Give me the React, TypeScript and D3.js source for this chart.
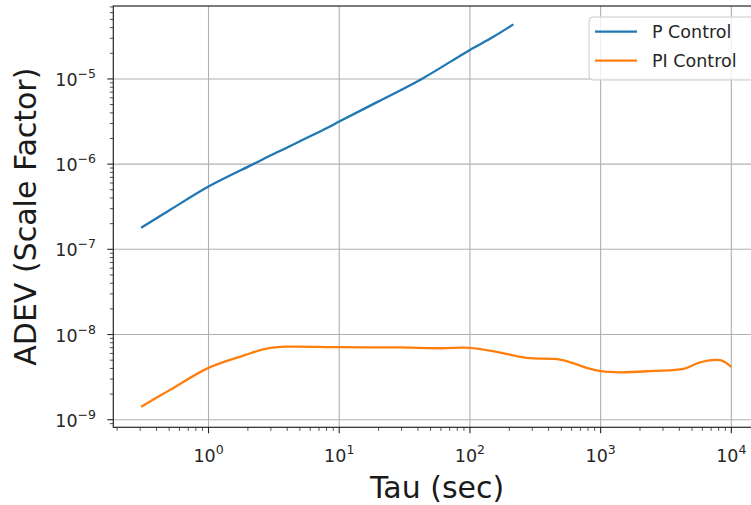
import React from "react";
import * as d3 from "d3";

const pTau = [0.305, 0.5, 1, 2.2, 3, 8.5, 10, 20, 42.8, 100, 150, 215];
const pAdev = [1.79e-7, 2.86e-7, 5.46e-7, 1.0e-6, 1.27e-6, 2.76e-6, 3.16e-6, 5.45e-6, 1.0e-5, 2.19e-5, 3.1e-5, 4.37e-5];

const piTau = [0.305, 0.5, 1, 1.85, 2.79, 3.97, 10, 29, 60, 100, 160, 272, 489, 617, 783, 1000, 1407, 2530, 4295, 5765, 8200, 10000];
const piAdev = [1.42e-9, 2.21e-9, 4.06e-9, 5.66e-9, 6.84e-9, 7.2e-9, 7.1e-9, 7.05e-9, 6.9e-9, 6.97e-9, 6.25e-9, 5.32e-9, 5.08e-9, 4.61e-9, 4.05e-9, 3.71e-9, 3.6e-9, 3.74e-9, 3.95e-9, 4.72e-9, 4.99e-9, 4.17e-9];

const xTickExps = [0, 1, 2, 3, 4];
const yTickExps = [-9, -8, -7, -6, -5];
const seriesNames = ["P Control", "PI Control"];
const seriesColors = ["#1f77b4", "#ff7f0e"];

const W = 751;
const H = 505;
const L = 113.3, R = 760.8, T = 6, B = 427.3;

export default function App() {
  const x = d3.scaleLog().domain([Math.pow(10, -0.7285), Math.pow(10, 4.2255)]).range([L, R]);
  const y = d3.scaleLog().domain([Math.pow(10, -9.089), Math.pow(10, -4.144)]).range([B, T]);
  const line = d3.line<[number, number]>().x(d => x(d[0])).y(d => y(d[1])).curve(d3.curveCatmullRom.alpha(0.5));
  const pData = pTau.map((t, i) => [t, pAdev[i]] as [number, number]);
  const piData = piTau.map((t, i) => [t, piAdev[i]] as [number, number]);

  const [x0, x1] = x.domain();
  const [y0, y1] = y.domain();
  const xMinor: number[] = [];
  for (let d = -1; d <= 4; d++) for (let k = 2; k <= 9; k++) { const v = k * Math.pow(10, d); if (v > x0 && v < x1) xMinor.push(v); }
  const yMinor: number[] = [];
  for (let d = -10; d <= -4; d++) for (let k = 2; k <= 9; k++) { const v = k * Math.pow(10, d); if (v > y0 && v < y1) yMinor.push(v); }

  const font = "DejaVu Sans, sans-serif";
  const tickFs = 17.5;
  const supFs = 12.5;
  const axisColor = "#262626";
  const gridColor = "#b0b0b0";

  return (
    <svg width={W} height={H} style={{ position: "absolute", left: 0, top: 0, background: "#fff" }} fontFamily={font}>
      {xTickExps.map(e => (
        <line key={"gx" + e} x1={x(Math.pow(10, e))} x2={x(Math.pow(10, e))} y1={T} y2={B} stroke={gridColor} strokeWidth={1.1} />
      ))}
      {yTickExps.map(e => (
        <line key={"gy" + e} x1={L} x2={R} y1={y(Math.pow(10, e))} y2={y(Math.pow(10, e))} stroke={gridColor} strokeWidth={1.1} />
      ))}
      <path d={line(pData) || ""} fill="none" stroke={seriesColors[0]} strokeWidth={2.3} strokeLinejoin="round" />
      <path d={line(piData) || ""} fill="none" stroke={seriesColors[1]} strokeWidth={2.3} strokeLinejoin="round" />
      <rect x={L} y={T} width={R - L} height={B - T} fill="none" stroke={axisColor} strokeWidth={1.2} />
      {xTickExps.map(e => (
        <g key={"xt" + e}>
          <line x1={x(Math.pow(10, e))} x2={x(Math.pow(10, e))} y1={B} y2={B + 6} stroke={axisColor} strokeWidth={1.1} />
          <text x={x(Math.pow(10, e))} y={461.7} textAnchor="middle" fontSize={tickFs} fill="#262626">
            10<tspan dy={-8} fontSize={supFs}>{e}</tspan>
          </text>
        </g>
      ))}
      {xMinor.map((v, i) => (
        <line key={"xm" + i} x1={x(v)} x2={x(v)} y1={B} y2={B + 3.5} stroke={axisColor} strokeWidth={0.8} />
      ))}
      {yTickExps.map(e => (
        <g key={"yt" + e}>
          <line x1={L - 6} x2={L} y1={y(Math.pow(10, e))} y2={y(Math.pow(10, e))} stroke={axisColor} strokeWidth={1.1} />
          <text x={96} y={y(Math.pow(10, e)) + 7} textAnchor="end" fontSize={tickFs} fill="#262626">
            10<tspan dy={-8} fontSize={supFs}>{"\u2212" + Math.abs(e)}</tspan>
          </text>
        </g>
      ))}
      {yMinor.map((v, i) => (
        <line key={"ym" + i} x1={L - 3.5} x2={L} y1={y(v)} y2={y(v)} stroke={axisColor} strokeWidth={0.8} />
      ))}
      <text x={(L + R) / 2} y={498} textAnchor="middle" fontSize={30} fill="#1a1a1a">Tau (sec)</text>
      <text transform={`translate(36,${(T + B) / 2}) rotate(-90)`} textAnchor="middle" fontSize={30} fill="#1a1a1a">ADEV (Scale Factor)</text>
      <rect x={589} y={17} width={166} height={63} rx={4} fill="#fff" fillOpacity={0.8} stroke="#cccccc" strokeWidth={1} />
      {seriesNames.map((n, i) => (
        <g key={n}>
          <line x1={595} x2={637} y1={31.7 + i * 29} y2={31.7 + i * 29} stroke={seriesColors[i]} strokeWidth={2.3} />
          <text x={652} y={31.7 + i * 29} dy="0.36em" fontSize={17.5} fill="#262626">{n}</text>
        </g>
      ))}
    </svg>
  );
}
